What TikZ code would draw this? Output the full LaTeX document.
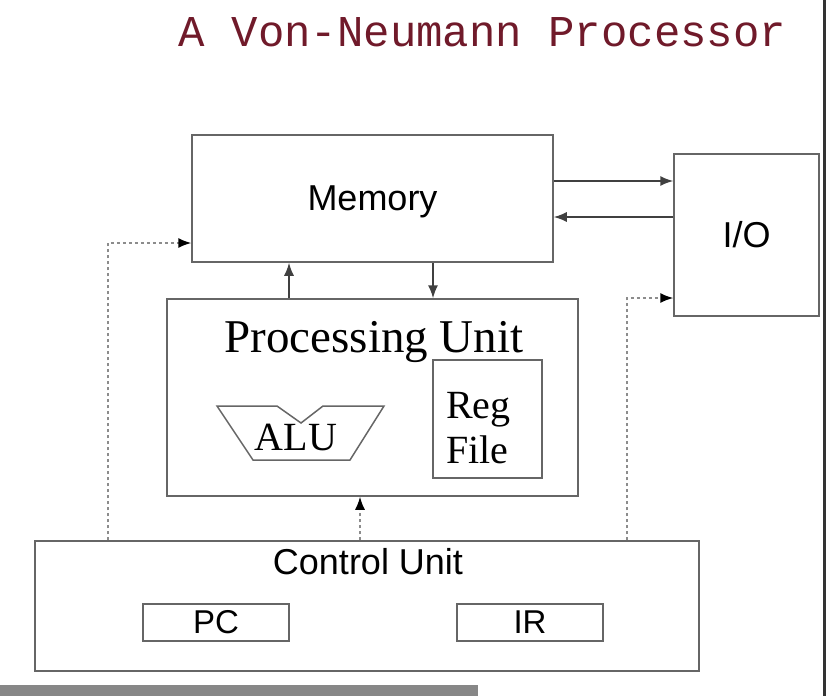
\documentclass[tikz,border=0pt]{standalone}
\usepackage{fontspec}
\setmainfont{Liberation Serif}
\setsansfont{Liberation Sans}
\setmonofont{Liberation Mono}
\usetikzlibrary{arrows.meta}
\definecolor{titlered}{RGB}{112,26,42}
\begin{document}
\begin{tikzpicture}[x=1pt,y=-1pt,
        bx/.style={draw=black!60,line width=1.5pt,inner sep=0},
        sf/.style={font=\sffamily\fontsize{36}{40}\selectfont},
        rm/.style={font=\rmfamily\fontsize{40}{45}\selectfont,inner sep=0},
        arr/.style={draw=black!75,line width=1.5pt,-{Latex[length=13pt,width=10pt]}},
        dt/.style={draw=black!45,line width=1.5pt,dash pattern=on 3pt off 3pt,-{Latex[length=13pt,width=10pt,black]}}]
        \useasboundingbox (0,0) rectangle (826,696);
        \node[font=\ttfamily\fontsize{44}{48}\selectfont,text=titlered] (title) at (482.5,32) {A Von-Neumann Processor};
        \node[bx,sf,text depth=0pt,minimum width=361,minimum height=127] (mem) at (372.5,198.5) {Memory};
        \node[bx,sf,minimum width=145,minimum height=162] (io) at (746.5,235) {I/O};
        \node[bx,minimum width=411,minimum height=197] (pu) at (372.5,397.5) {};
        \node[rm,font=\rmfamily\fontsize{47}{50}\selectfont] (putxt) at (374,342) {Processing Unit};
        \node[bx,minimum width=109,minimum height=118] (reg) at (487.5,419) {};
        \node[rm,align=left,anchor=west] (regtxt) at (446,428) {Reg\\File};
        \draw[draw=black!60,line width=1.5pt] (217,406) -- (277,406) -- (301,423) -- (323,406) -- (384,406)
            -- (350,460) -- (253,460) -- cycle;
        \node[rm] (alutxt) at (296,437) {ALU};
        \node[bx,minimum width=664,minimum height=130] (cu) at (367,606) {};
        \node[sf,inner sep=0] (cutxt) at (368,562) {Control Unit};
        \foreach \x/\n in {216/PC,530/IR}{
            \node[bx,font=\sffamily\fontsize{33}{36}\selectfont,minimum width=146,minimum height=37] (\n) at (\x,622.5) {\n};
        }
        \draw[arr] (mem.east |- 0,181) -- (io.west |- 0,181);
        \draw[arr] (io.west |- 0,217) -- (mem.east |- 0,217);
        \draw[arr] (pu.north -| 289,0) -- (mem.south -| 289,0);
        \draw[arr] (mem.south -| 433,0) -- (pu.north -| 433,0);
        \draw[dt] (cu.north -| 108,0) |- (mem.west |- 0,243);
        \draw[dt] (cu.north -| 360,0) -- (pu.south -| 360,0);
        \draw[dt] (cu.north -| 627,0) |- (io.west |- 0,298);
        \fill[black!47] (0,685) rectangle (478,696);
        \fill[black!80] (823,0) rectangle (825.5,696);
    \end{tikzpicture}
\end{document}
